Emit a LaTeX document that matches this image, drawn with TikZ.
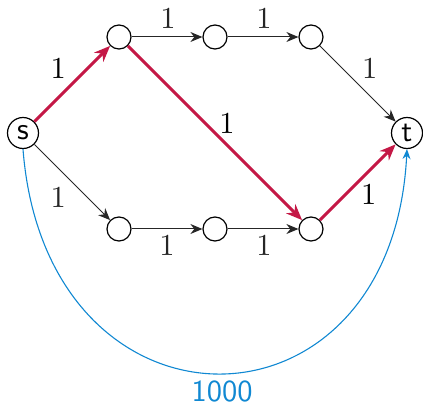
\documentclass[tikz,border=0pt]{standalone}
\usetikzlibrary{arrows.meta}
\definecolor{pathred}{RGB}{196,24,70}
\definecolor{bigblue}{RGB}{16,136,210}
\newcommand\mylab[1]{\scalebox{3.05}{\normalsize #1}}
\begin{document}
\begin{tikzpicture}[x=1pt,y=-1pt,
  vtx/.style={circle,draw,line width=1.2pt,minimum size=24pt,inner sep=0pt},
  term/.style={circle,draw,line width=1.2pt,minimum size=31pt,inner sep=0pt,font=\sffamily},
  edge/.style={-{Stealth[length=12pt,width=10pt]},line width=1pt,black!85},
  hot/.style={-{Stealth[length=16pt,width=13pt]},line width=3pt,pathred},
  bluearc/.style={-{Stealth[length=10pt,width=8pt]},line width=1.1pt,bigblue},
  lbl/.style={inner sep=0pt}]
\useasboundingbox (0,0) rectangle (423,406);
\node[term] (s) at (23,133) {\mylab{s}};
\node[term] (t) at (407,133) {\mylab{t}};
\node[vtx] (a1) at (119,37) {};
\node[vtx] (a2) at (215,37) {};
\node[vtx] (a3) at (311,37) {};
\node[vtx] (b1) at (119,229) {};
\node[vtx] (b2) at (215,229) {};
\node[vtx] (b3) at (311,229) {};
\draw[edge] (a1) -- (a2) node[lbl,midway,xshift=1pt,yshift=19pt] {\mylab{1}};
\draw[edge] (a2) -- (a3) node[lbl,midway,xshift=1pt,yshift=19pt] {\mylab{1}};
\draw[edge] (a3) -- (t) node[lbl,midway,xshift=12pt,yshift=15pt] {\mylab{1}};
\draw[edge] (s) -- (b1) node[lbl,midway,xshift=-14pt,yshift=-15pt] {\mylab{1}};
\draw[edge] (b1) -- (b2) node[lbl,midway,xshift=0pt,yshift=-16pt] {\mylab{1}};
\draw[edge] (b2) -- (b3) node[lbl,midway,xshift=1pt,yshift=-16pt] {\mylab{1}};
\draw[hot] (s) -- (a1) node[lbl,midway,black,xshift=-14pt,yshift=15pt] {\mylab{1}};
\draw[hot] (a1) -- (b3) node[lbl,midway,black,xshift=12pt,yshift=10pt] {\mylab{1}};
\draw[hot] (b3) -- (t) node[lbl,midway,black,xshift=11pt,yshift=-12pt] {\mylab{1}};
\draw[bluearc] (s.south) .. controls (46,448) and (392,448) .. (t.south)
  node[lbl,font=\sffamily,text=bigblue,pos=0.5,xshift=4pt,yshift=-18pt] (w) {\mylab{1000}};
\end{tikzpicture}
\end{document}
